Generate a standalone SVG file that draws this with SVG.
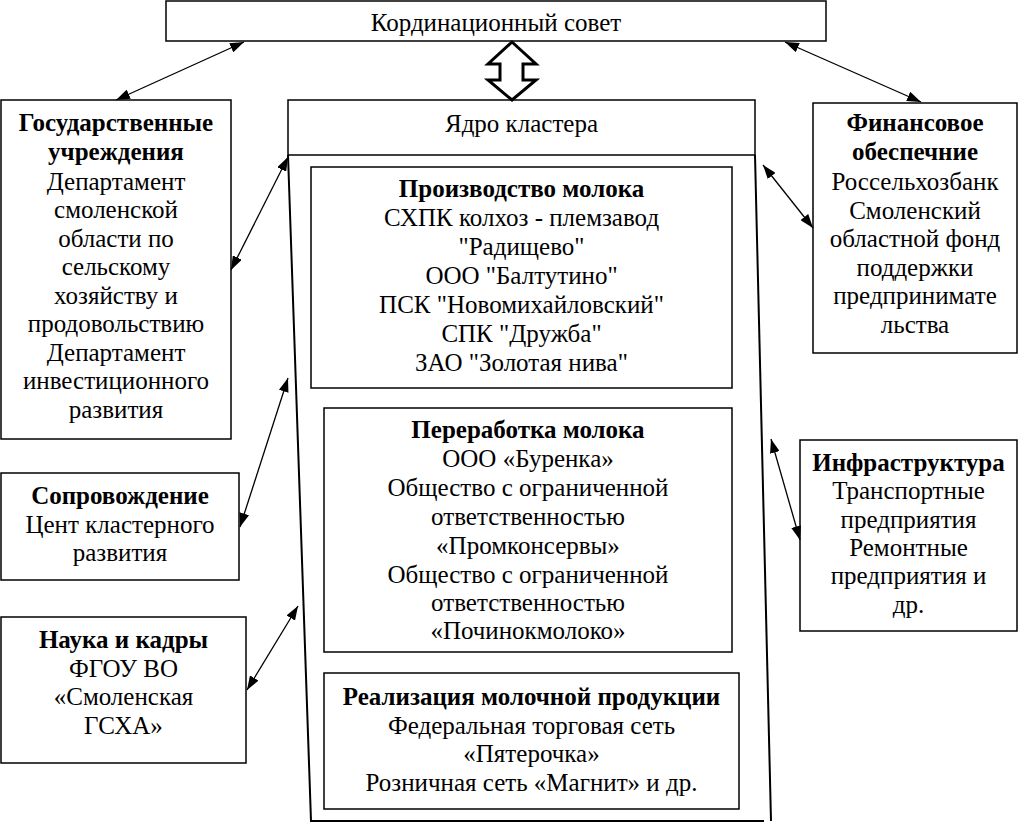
<svg xmlns="http://www.w3.org/2000/svg" width="1019" height="822" viewBox="0 0 1019 822">
<style>
.box{fill:#fff;stroke:#000;stroke-width:1.5}
text{font-family:'Liberation Serif','Times New Roman',serif;font-size:25px;fill:#000;text-anchor:middle}
.b{font-weight:bold}
.con{stroke:#000;stroke-width:1.3;fill:none;marker-start:url(#ah);marker-end:url(#ah)}
.frame{stroke:#000;stroke-width:2;fill:none}
</style>
<defs>
<marker id="ah" viewBox="0 0 14 10" refX="14" refY="5" markerWidth="14" markerHeight="10" markerUnits="userSpaceOnUse" orient="auto-start-reverse">
<path d="M0,0 L14,5 L0,10 Z" fill="#000"/>
</marker>
</defs>
<rect width="1019" height="822" fill="#fff"/>

<g id="council">
<rect class="box" x="166" y="1" width="660" height="40"/>
<text x="496" y="31">Кординационный совет</text>
</g>

<g id="core">
<rect class="box" x="288" y="100" width="467" height="55"/>
<text x="521.5" y="132">Ядро кластера</text>
<path class="frame" d="M288,155 L311,821 L764,821"/>
<path class="frame" d="M755,155 L771,821"/>
</g>

<g id="production">
<rect class="box" x="311" y="167" width="421" height="221"/>
<text><tspan class="b" x="521.5" y="197">Производство молока</tspan><tspan x="521.5" y="226">СХПК колхоз - племзавод</tspan><tspan x="521.5" y="255">"Радищево"</tspan><tspan x="521.5" y="284">ООО "Балтутино"</tspan><tspan x="521.5" y="313">ПСК "Новомихайловский"</tspan><tspan x="521.5" y="342">СПК "Дружба"</tspan><tspan x="521.5" y="371">ЗАО "Золотая нива"</tspan></text>
</g>

<g id="processing">
<rect class="box" x="324" y="408" width="408" height="244"/>
<text><tspan class="b" x="528" y="438">Переработка молока</tspan><tspan x="528" y="467">ООО «Буренка»</tspan><tspan x="528" y="496">Общество с ограниченной</tspan><tspan x="528" y="525">ответственностью</tspan><tspan x="528" y="554">«Промконсервы»</tspan><tspan x="528" y="583">Общество с ограниченной</tspan><tspan x="528" y="611">ответственностью</tspan><tspan x="528" y="639">«Починокмолоко»</tspan></text>
</g>

<g id="sales">
<rect class="box" x="324" y="673" width="415" height="136"/>
<text><tspan class="b" x="531.5" y="705">Реализация молочной продукции</tspan><tspan x="531.5" y="734">Федеральная торговая сеть</tspan><tspan x="531.5" y="762">«Пятерочка»</tspan><tspan x="531.5" y="791">Розничная сеть «Магнит» и др.</tspan></text>
</g>

<g id="gov">
<rect class="box" x="1" y="100" width="230" height="339"/>
<text><tspan class="b" x="116" y="131">Государственные</tspan><tspan class="b" x="116" y="160">учреждения</tspan><tspan x="116" y="190">Департамент</tspan><tspan x="116" y="218">смоленской</tspan><tspan x="116" y="247">области по</tspan><tspan x="116" y="275">сельскому</tspan><tspan x="116" y="304">хозяйству и</tspan><tspan x="116" y="332">продовольствию</tspan><tspan x="116" y="361">Департамент</tspan><tspan x="116" y="389">инвестиционного</tspan><tspan x="116" y="418">развития</tspan></text>
</g>

<g id="support">
<rect class="box" x="1" y="473" width="238" height="107"/>
<text><tspan class="b" x="120" y="504">Сопровождение</tspan><tspan x="120" y="533">Цент кластерного</tspan><tspan x="120" y="561">развития</tspan></text>
</g>

<g id="science">
<rect class="box" x="1" y="617" width="245" height="146"/>
<text><tspan class="b" x="123.5" y="648">Наука и кадры</tspan><tspan x="123.5" y="677">ФГОУ ВО</tspan><tspan x="123.5" y="705">«Смоленская</tspan><tspan x="123.5" y="734">ГСХА»</tspan></text>
</g>

<g id="finance">
<rect class="box" x="813" y="103" width="204" height="250"/>
<text><tspan class="b" x="915" y="131">Финансовое</tspan><tspan class="b" x="915" y="160">обеспечние</tspan><tspan x="915" y="190">Россельхозбанк</tspan><tspan x="915" y="219">Смоленский</tspan><tspan x="915" y="247">областной фонд</tspan><tspan x="915" y="276">поддержки</tspan><tspan x="915" y="304">предпринимате</tspan><tspan x="915" y="333">льства</tspan></text>
</g>

<g id="infra">
<rect class="box" x="800" y="440" width="217" height="191"/>
<text><tspan class="b" x="908.5" y="471">Инфраструктура</tspan><tspan x="908.5" y="499">Транспортные</tspan><tspan x="908.5" y="528">предприятия</tspan><tspan x="908.5" y="556">Ремонтные</tspan><tspan x="908.5" y="584">предприятия и</tspan><tspan x="908.5" y="613">др.</tspan></text>
</g>

<g id="connectors">
<path d="M512,42 L536,64 L523,64 L523,80 L536,80 L512,100 L488,80 L500,80 L500,64 L488,64 Z" fill="#fff" stroke="#000" stroke-width="3" stroke-linejoin="miter"/>
<line class="con" x1="244" y1="42" x2="116" y2="100"/>
<line class="con" x1="785" y1="42" x2="921" y2="102"/>
<line class="con" x1="288" y1="157" x2="231" y2="270"/>
<line class="con" x1="288" y1="378" x2="240" y2="527"/>
<line class="con" x1="298" y1="606" x2="247" y2="690"/>
<line class="con" x1="763" y1="165" x2="813" y2="228"/>
<line class="con" x1="771" y1="439" x2="800" y2="540"/>
</g>
</svg>
